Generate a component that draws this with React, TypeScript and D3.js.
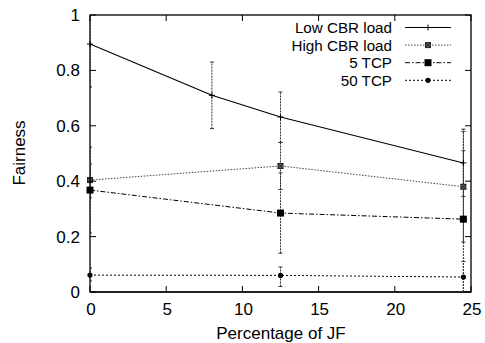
import React from "react";
import * as d3 from "d3";

const xTicks = [0, 5, 10, 15, 20, 25];
const yTicks = [0, 0.2, 0.4, 0.6, 0.8, 1];

const lowX = [0, 8, 12.5, 24.5];
const lowY = [0.895, 0.71, 0.632, 0.466];
const lowLo = [0.74, 0.59, 0.54, 0.345];
const lowHi = [1.05, 0.83, 0.722, 0.588];

const highX = [0, 12.5, 24.5];
const highY = [0.404, 0.455, 0.38];
const highLo = [0.34, 0.37, 0.18];
const highHi = [0.462, 0.54, 0.58];

const tcp5X = [0, 12.5, 24.5];
const tcp5Y = [0.368, 0.285, 0.263];
const tcp5Lo = [0.213, 0.14, 0.0];
const tcp5Hi = [0.523, 0.43, 0.51];

const tcp50X = [0, 12.5, 24.5];
const tcp50Y = [0.061, 0.06, 0.054];
const tcp50Lo = [0.04, 0.02, 0.0];
const tcp50Hi = [0.087, 0.09, 0.11];

const seriesNames = ["Low CBR load", "High CBR load", "5 TCP", "50 TCP"];

const W = 485, H = 343;
const L = 90, R = 471, T = 15, B = 292;
const font = "'Liberation Sans', Arial, Helvetica, sans-serif";

type S = { name: string; xs: number[]; ys: number[]; lo: number[]; hi: number[]; dash: string; color: string; marker: string; width: number };

const series: S[] = [
  { name: seriesNames[0], xs: lowX, ys: lowY, lo: lowLo, hi: lowHi, dash: "none", color: "#000", marker: "plus", width: 1.1 },
  { name: seriesNames[1], xs: highX, ys: highY, lo: highLo, hi: highHi, dash: "1.5,1.5", color: "#444", marker: "boxstar", width: 1 },
  { name: seriesNames[2], xs: tcp5X, ys: tcp5Y, lo: tcp5Lo, hi: tcp5Hi, dash: "5,2,1.5,2", color: "#000", marker: "square", width: 1 },
  { name: seriesNames[3], xs: tcp50X, ys: tcp50Y, lo: tcp50Lo, hi: tcp50Hi, dash: "2,2", color: "#000", marker: "circle", width: 1 },
];

function Marker({ type, x, y }: { type: string; x: number; y: number }) {
  if (type === "plus")
    return <path d={`M${x - 3},${y}H${x + 3}M${x},${y - 3}V${y + 3}`} stroke="#000" strokeWidth={1} />;
  if (type === "boxstar")
    return (
      <g stroke="#222" strokeWidth={1} fill="#666">
        <rect x={x - 2.5} y={y - 2.5} width={5} height={5} />
        <path d={`M${x - 2.5},${y - 2.5}L${x + 2.5},${y + 2.5}M${x + 2.5},${y - 2.5}L${x - 2.5},${y + 2.5}`} />
      </g>
    );
  if (type === "square") return <rect x={x - 3.5} y={y - 3.5} width={7} height={7} fill="#000" />;
  return <circle cx={x} cy={y} r={2.6} fill="#000" />;
}

export default function App() {
  const x = d3.scaleLinear().domain([0, 25]).range([L, R]);
  const y = d3.scaleLinear().domain([0, 1]).range([B, T]);
  const line = d3.line<number>();

  const legendX1 = 405, legendX2 = 451, legendTextX = 392;
  const legendY = [27.5, 45.1, 62.7, 80.3];

  return (
    <svg width={W} height={H} style={{ position: "absolute", left: 0, top: 0, background: "#fff" }} fontFamily={font}>
      <defs>
        <clipPath id="plot">
          <rect x={L} y={T} width={R - L} height={B - T} />
        </clipPath>
      </defs>
      <g clipPath="url(#plot)">
        {series.map((s, si) =>
          s.xs.map((xv, i) => {
            const px = x(xv);
            const y1 = y(s.lo[i]), y2 = y(s.hi[i]);
            return (
              <g key={`e${si}-${i}`} stroke="#333" strokeWidth={1}>
                <line x1={px} x2={px} y1={y1} y2={y2} strokeDasharray="2,1" />
                <line x1={px - 2} x2={px + 2} y1={y1} y2={y1} />
                <line x1={px - 2} x2={px + 2} y1={y2} y2={y2} />
              </g>
            );
          })
        )}
      </g>
      {series.map((s, si) => (
        <path
          key={`l${si}`}
          d={line(s.xs.map((xv, i) => [x(xv), y(s.ys[i])]) as any) || ""}
          fill="none"
          stroke={s.color}
          strokeWidth={s.width}
          strokeDasharray={s.dash}
        />
      ))}
      {series.map((s, si) =>
        s.xs.map((xv, i) => <Marker key={`m${si}-${i}`} type={s.marker} x={x(xv)} y={y(s.ys[i])} />)
      )}
      <rect x={L} y={T} width={R - L} height={B - T} fill="none" stroke="#000" strokeWidth={1.3} />
      <line x1={L} x2={R} y1={B} y2={B} stroke="#222" strokeWidth={2} />
      {xTicks.map((t) => (
        <g key={`xt${t}`}>
          <line x1={x(t)} x2={x(t)} y1={B} y2={B - 6} stroke="#000" />
          <line x1={x(t)} x2={x(t)} y1={T} y2={T + 6} stroke="#000" />
          <text x={x(t) + 1} y={B + 23} fontSize={17} textAnchor="middle" fill="#000">
            {t}
          </text>
        </g>
      ))}
      {yTicks.map((t) => (
        <g key={`yt${t}`}>
          <line x1={L} x2={L + 6} y1={y(t)} y2={y(t)} stroke="#000" />
          <line x1={R} x2={R - 6} y1={y(t)} y2={y(t)} stroke="#000" />
          <text x={80} y={y(t) + 6} fontSize={17} textAnchor="end" fill="#000">
            {t}
          </text>
        </g>
      ))}
      <text x={281} y={339} fontSize={17} textAnchor="middle" fill="#000">
        Percentage of JF
      </text>
      <text transform="translate(25,153) rotate(-90)" fontSize={17} textAnchor="middle" fill="#000">
        Fairness
      </text>
      {series.map((s, si) => (
        <g key={`lg${si}`}>
          <text x={legendTextX} y={legendY[si] + 5.5} fontSize={15.2} textAnchor="end" fill="#000">
            {s.name}
          </text>
          <line x1={legendX1} x2={legendX2} y1={legendY[si]} y2={legendY[si]} stroke={s.color} strokeWidth={s.width} strokeDasharray={s.dash} />
          <Marker type={s.marker} x={(legendX1 + legendX2) / 2} y={legendY[si]} />
        </g>
      ))}
    </svg>
  );
}
